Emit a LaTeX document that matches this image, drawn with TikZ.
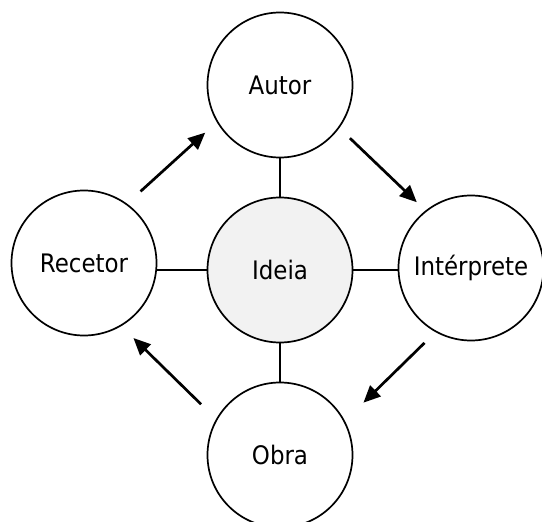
\documentclass[tikz,border=0pt]{standalone}
\usepackage{fontspec}
\setmainfont{DejaVu Sans Condensed}
\usetikzlibrary{calc}
\usetikzlibrary{arrows.meta}

\tikzset{
  role/.style={circle, draw, line width=1.7pt, minimum size=145pt, inner sep=0pt,
    font=\fontsize{25.5}{30}\selectfont},
  link/.style={line width=1.7pt},
  flow/.style={line width=2.7pt, -{Triangle[length=17pt,width=15pt]}},
}

\begin{document}
\begin{tikzpicture}[x=1pt,y=-1pt]
		\clip (0,0) rectangle (542,522);
		% centre
		\node[role, fill=gray!10] (ide) at (280,270) {Ideia};
		% the four roles round it
		\node[role] (aut) at (280,85) {Autor};
		\node[role] (int) at (471,268) {Intérprete};
		\node[role] (obr) at (280,455) {Obra};
		\node[role] (rec) at (84,263) {Recetor};
		% spokes
		\draw[link] (ide) -- (aut);
		\draw[link] (ide) -- (obr);
		\draw[link] (ide.west) -- (ide.west -| rec.east);
		\draw[link] (ide.east) -- (ide.east -| int.west);
		% cycle, offset outwards
		\draw[flow] ($(rec)!0.34!(aut)!15pt!90:(aut)$) -- ($(rec)!0.67!(aut)!15pt!90:(aut)$);
		\draw[flow] ($(aut)!0.33!(int)!10pt!90:(int)$) -- ($(aut)!0.68!(int)!10pt!90:(int)$);
		\draw[flow] ($(int)!0.32!(obr)!21pt!90:(obr)$) -- ($(int)!0.64!(obr)!21pt!90:(obr)$);
		\draw[flow] ($(obr)!0.335!(rec)!19pt!90:(rec)$) -- ($(obr)!0.68!(rec)!19pt!90:(rec)$);
\end{tikzpicture}
\end{document}
